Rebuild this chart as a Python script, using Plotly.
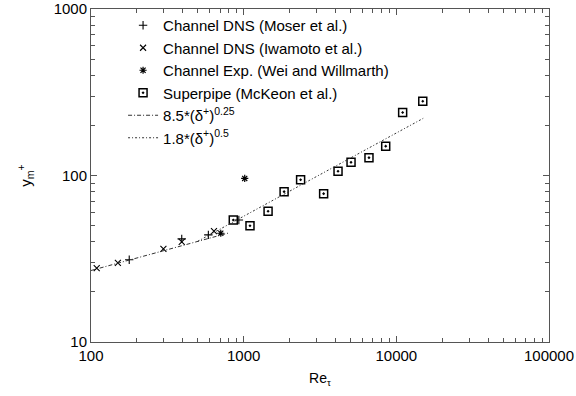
import plotly.graph_objects as go

# ---- data ----
moser_re = [178, 393, 587, 930]
moser_y = [31.2, 41.6, 44.0, 54.0]

iwamoto_re = [109, 150, 298, 393, 639]
iwamoto_y = [27.8, 29.9, 36.3, 39.9, 46.4]

wei_re = [708, 1016]
wei_y = [45.0, 96.0]

superpipe_re = [855, 1100, 1445, 1840, 2360, 3340, 4150, 5050, 6620, 8520, 11000, 14900]
superpipe_y = [54.0, 49.9, 61.0, 80.0, 94.3, 77.8, 106, 120, 128, 150, 239, 279]

# power-law fits (straight lines on log-log axes)
fit1_coef, fit1_pow = 8.5, 0.25
fit1_x = [100, 790]
fit2_coef, fit2_pow = 1.8, 0.5
fit2_x = [500, 15000]

fit1_y = [fit1_coef * x ** fit1_pow for x in fit1_x]
fit2_y = [fit2_coef * x ** fit2_pow for x in fit2_x]

x_tickvals = [100, 1000, 10000, 100000]
x_ticktext = ["100", "1000", "10000", "100000"]
y_tickvals = [10, 100, 1000]
y_ticktext = ["10", "100", "1000"]

# minor tick positions (2..9 in each decade)
x_minor = [m * d for d in (100, 1000, 10000) for m in range(2, 10)]
y_minor = [m * d for d in (10, 100) for m in range(2, 10)]

FONT = "Liberation Sans"

fig = go.Figure()
fig.add_trace(go.Scatter(x=moser_re, y=moser_y, mode="markers",
                         name="Channel DNS (Moser et al.)",
                         marker=dict(symbol="cross-thin-open", size=6, color="black",
                                     line=dict(width=1.1, color="black"))))
fig.add_trace(go.Scatter(x=iwamoto_re, y=iwamoto_y, mode="markers",
                         name="Channel DNS (Iwamoto et al.)",
                         marker=dict(symbol="x-thin-open", size=6, color="black",
                                     line=dict(width=1.1, color="black"))))
fig.add_trace(go.Scatter(x=wei_re, y=wei_y, mode="markers",
                         name="Channel Exp. (Wei and Willmarth)",
                         marker=dict(symbol="asterisk-open", size=6, color="black",
                                     line=dict(width=1.2, color="black"))))
fig.add_trace(go.Scatter(x=superpipe_re, y=superpipe_y, mode="markers",
                         name="Superpipe (McKeon et al.)",
                         marker=dict(symbol="square-open-dot", size=8, color="black",
                                     line=dict(width=1.5, color="black"))))
fig.add_trace(go.Scatter(x=fit1_x, y=fit1_y, mode="lines",
                         name="8.5*(δ<sup>+</sup>)<sup>0.25</sup>",
                         line=dict(color="#333333", width=1, dash="4px,2px,1px,2px")))
fig.add_trace(go.Scatter(x=fit2_x, y=fit2_y, mode="lines",
                         name="1.8*(δ<sup>+</sup>)<sup>0.5</sup>",
                         line=dict(color="#333333", width=1, dash="2px,2px,1px,2px")))

axis_common = dict(
    type="log", showgrid=False, zeroline=False,
    showline=True, linecolor="#555555", linewidth=1, mirror="ticks",
    ticks="inside", ticklen=6, tickcolor="#555555", tickwidth=1,
    tickfont=dict(family=FONT, size=15, color="black"),
    ticklabeloverflow="allow", automargin=False,
)

fig.update_layout(
    width=576, height=396,
    margin=dict(l=91, r=27, t=9, b=54),
    paper_bgcolor="white", plot_bgcolor="white",
    font=dict(family=FONT, size=15, color="black"),
    xaxis=dict(range=[2, 5], tickmode="array", tickvals=x_tickvals, ticktext=x_ticktext,
               minor=dict(tickmode="array", tickvals=x_minor, ticks="inside",
                          ticklen=4, tickcolor="#555555", showgrid=False),
               title=dict(text="Re<sub>τ</sub>", standoff=10,
                          font=dict(family=FONT, size=14)),
               **axis_common),
    yaxis=dict(range=[1, 3], tickmode="array", tickvals=y_tickvals, ticktext=y_ticktext,
               minor=dict(tickmode="array", tickvals=y_minor, ticks="inside",
                          ticklen=4, tickcolor="#555555", showgrid=False),
               title=dict(text="y<sub>m</sub><sup>+</sup>", standoff=18,
                          font=dict(family=FONT, size=15)),
               **axis_common),
    showlegend=True,
    legend=dict(x=0.07, y=1.0, xanchor="left", yanchor="top",
                bgcolor="rgba(0,0,0,0)", borderwidth=0,
                itemwidth=30, tracegroupgap=0,
                font=dict(family=FONT, size=15, color="black")),
)

fig.write_html("out.html")
